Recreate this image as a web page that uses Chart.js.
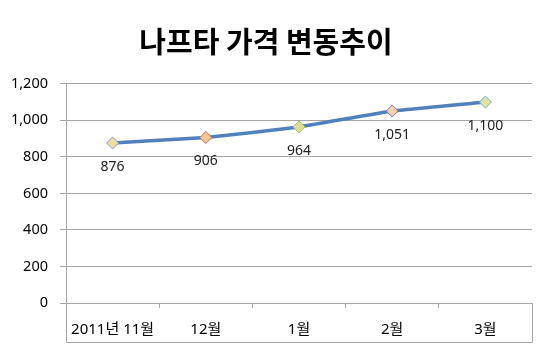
<!DOCTYPE html>
<html>
<head>
<meta charset="utf-8">
<script src="https://cdn.jsdelivr.net/npm/chart.js@4"></script>
<style>
  html, body { margin: 0; padding: 0; background: #fff; }
  #wrap { width: 550px; height: 353px; }
</style>
</head>
<body>
<div id="wrap"><canvas id="priceChart" width="550" height="353"></canvas></div>
<script>
// Data
const months = ['2011년 11월', '12월', '1월', '2월', '3월'];
const prices = [876, 906, 964, 1051, 1100];
const yTicks = [0, 200, 400, 600, 800, 1000, 1200];

const markerFill = ['#f1d9a6', '#f7c690', '#dedd9c', '#f0d3a8', '#e9e0a2'];
const markerEdge = ['#7f9fc8', '#c9665f', '#a3c063', '#8c70ad', '#5bb6cc'];

const FONT = '"Noto Sans", "Noto Sans CJK KR", sans-serif';
const TITLE_FONT = '"Noto Sans CJK KR", sans-serif';
const fmt = v => v.toLocaleString('en-US');

// value labels under each point + box under the axis
const extras = {
    id: 'extras',
    afterDatasetsDraw(chart) {
        const ctx = chart.ctx;
        const meta = chart.getDatasetMeta(0);
        ctx.save();
        ctx.font = '14px ' + FONT;
        ctx.fillStyle = '#222';
        ctx.textAlign = 'center';
        ctx.textBaseline = 'middle';
        meta.data.forEach((pt, i) => {
            ctx.fillText(fmt(prices[i]), pt.x, pt.y + 24);
        });
        ctx.restore();
    },
    afterDraw(chart) {
        const ctx = chart.ctx;
        const a = chart.chartArea;
        const bottom = a.bottom + 39;
        ctx.save();
        ctx.strokeStyle = '#a6a6a6';
        ctx.lineWidth = 1;
        ctx.beginPath();
        ctx.moveTo(a.left + 0.5, a.bottom);
        ctx.lineTo(a.left + 0.5, bottom + 0.5);
        ctx.lineTo(a.right + 0.5, bottom + 0.5);
        ctx.lineTo(a.right + 0.5, a.bottom);
        ctx.stroke();
        ctx.restore();
    }
};

new Chart(document.getElementById('priceChart'), {
    type: 'line',
    data: {
        labels: months,
        datasets: [{
            data: prices,
            borderColor: '#4f81bd',
            borderWidth: 3.5,
            tension: 0.1,
            pointStyle: 'rectRot',
            pointRadius: 6,
            pointHoverRadius: 6,
            pointBackgroundColor: markerFill,
            pointBorderColor: markerEdge,
            pointBorderWidth: 1
        }]
    },
    options: {
        responsive: false,
        animation: false,
        layout: { padding: { left: 0, right: 18, top: 0, bottom: 0 } },
        plugins: {
            legend: { display: false },
            tooltip: { enabled: false },
            title: {
                display: true,
                text: '나프타 가격 변동추이',
                color: '#000',
                font: { family: TITLE_FONT, size: 29, weight: 'bold', lineHeight: 1.2 },
                padding: { top: 25, bottom: 24 }
            }
        },
        scales: {
            x: {
                offset: true,
                afterFit: s => { s.height = 50; },
                grid: { drawOnChartArea: false, offset: true, tickLength: 5, color: '#a6a6a6' },
                border: { color: '#a6a6a6' },
                ticks: { color: '#000', padding: 13, font: { family: FONT, size: 15 } }
            },
            y: {
                min: 0,
                max: 1200,
                afterFit: s => { s.width = 66; },
                afterBuildTicks: s => { s.ticks = yTicks.map(v => ({ value: v })); },
                grid: { color: '#a6a6a6', tickLength: 6 },
                border: { color: '#a6a6a6' },
                ticks: {
                    color: '#000',
                    padding: 12,
                    font: { family: FONT, size: 14.5 },
                    callback: v => fmt(v)
                }
            }
        }
    },
    plugins: [extras]
});
</script>
</body>
</html>
